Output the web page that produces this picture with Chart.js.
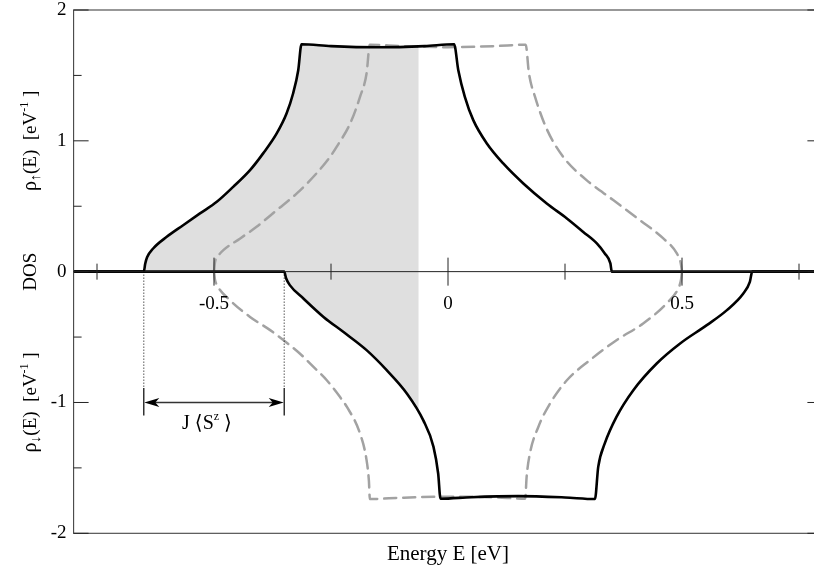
<!DOCTYPE html>
<html>
<head>
<meta charset="utf-8">
<script src="https://cdn.jsdelivr.net/npm/chart.js@4.4.0/dist/chart.umd.min.js"></script>
<style>
  html, body { margin: 0; padding: 0; background: #fff; overflow: hidden; }
  #wrap { position: relative; width: 860px; height: 572px; }
</style>
</head>
<body>
<div id="wrap"><canvas id="dos"></canvas></div>
<script>
// Spin-up DOS, exchange-split band (solid)
const upSolidE   = [-0.8, -0.65, -0.647, -0.643, -0.630, -0.601, -0.566, -0.530, -0.494, -0.459, -0.423, -0.395, -0.366, -0.345, -0.331, -0.320, -0.313, -0.25, -0.15, -0.05, 0.013, 0.022, 0.036, 0.054, 0.083, 0.118, 0.161, 0.211, 0.254, 0.289, 0.318, 0.335, 0.347, 0.350, 0.8];
const upSolidDOS = [0, 0, 0.06, 0.11, 0.177, 0.266, 0.355, 0.445, 0.534, 0.648, 0.776, 0.904, 1.057, 1.209, 1.362, 1.540, 1.738, 1.724, 1.715, 1.724, 1.738, 1.540, 1.336, 1.158, 0.980, 0.827, 0.674, 0.521, 0.407, 0.304, 0.216, 0.139, 0.063, 0, 0];

// Spin-down DOS, exchange-split band (solid, drawn negative)
const downSolidE   = [-0.8, -0.35, -0.346, -0.338, -0.309, -0.266, -0.224, -0.174, -0.131, -0.088, -0.053, -0.031, -0.021, -0.016, 0.05, 0.15, 0.25, 0.314, 0.321, 0.335, 0.360, 0.396, 0.446, 0.496, 0.553, 0.596, 0.631, 0.645, 0.650, 0.8];
const downSolidDOS = [0, 0, -0.05, -0.103, -0.205, -0.346, -0.460, -0.600, -0.753, -0.931, -1.135, -1.339, -1.543, -1.736, -1.724, -1.716, -1.726, -1.738, -1.492, -1.313, -1.110, -0.906, -0.702, -0.549, -0.409, -0.294, -0.167, -0.078, 0, 0];

// Unsplit band, spin up (dashed)
const upDashE   = [-0.5, -0.498, -0.491, -0.480, -0.444, -0.409, -0.366, -0.323, -0.281, -0.252, -0.238, -0.209, -0.188, -0.174, -0.167, -0.1, 0, 0.1, 0.166, 0.173, 0.186, 0.211, 0.246, 0.296, 0.353, 0.410, 0.460, 0.489, 0.497, 0.5];
const upDashDOS = [0, 0.07, 0.12, 0.164, 0.254, 0.343, 0.470, 0.598, 0.751, 0.878, 0.954, 1.133, 1.336, 1.515, 1.735, 1.724, 1.716, 1.724, 1.735, 1.515, 1.336, 1.09, 0.878, 0.700, 0.547, 0.394, 0.254, 0.139, 0.07, 0];

// Unsplit band, spin down (dashed)
const downDashE   = [-0.5, -0.498, -0.494, -0.466, -0.423, -0.380, -0.338, -0.309, -0.295, -0.259, -0.231, -0.216, -0.188, -0.174, -0.169, -0.167, -0.1, 0, 0.1, 0.165, 0.168, 0.175, 0.193, 0.218, 0.254, 0.303, 0.360, 0.417, 0.467, 0.492, 0.498, 0.5];
const downDashDOS = [0, -0.06, -0.10, -0.218, -0.346, -0.447, -0.562, -0.651, -0.702, -0.830, -0.957, -1.034, -1.237, -1.441, -1.60, -1.738, -1.728, -1.72, -1.725, -1.735, -1.569, -1.39, -1.187, -1.008, -0.830, -0.677, -0.524, -0.396, -0.243, -0.128, -0.06, 0];

// Occupied states up to the Fermi energy are shaded
const fermiEnergy = -0.063;
// Lower band edges of the two spin channels; their distance is J<S^z>
const splitEdges = [-0.65, -0.35];

// Axis ticks
const xTickMajor  = [-0.5, 0, 0.5];
const xTickLabels = ['-0.5', '0', '0.5'];
const xTickMinor  = [-0.75, -0.25, 0.25, 0.75];
const yTickMajor  = [-2, -1, 0, 1, 2];
const yTickLabels = ['-2', '-1', '0', '1', '2'];
const yTickMinor  = [-1.5, -0.5, 0.5, 1.5];

const SERIF = '"Liberation Serif", "DejaVu Serif", serif';
const shadeColor = '#dfdfdf';

function pts(xs, ys) { return xs.map((e, i) => ({ x: e, y: ys[i] })); }

function drawRuns(ctx, runs) {
  // runs laid out left to right, centred on the current origin
  let w = 0;
  runs.forEach(r => { ctx.font = r.size + 'px ' + SERIF; r.w = ctx.measureText(r.t).width; w += r.w; });
  let cx = -w / 2;
  runs.forEach(r => {
    ctx.font = r.size + 'px ' + SERIF;
    ctx.fillText(r.t, cx, r.dy || 0);
    cx += r.w;
  });
}

const decor = {
  id: 'decor',
  beforeDatasetsDraw(chart) {
    const { ctx, chartArea: a, scales: { x, y } } = chart;
    const xf = x.getPixelForValue(fermiEnergy);
    const y0 = y.getPixelForValue(0);
    [0, 1].forEach(i => {
      const meta = chart.getDatasetMeta(i);
      const line = meta.dataset;
      const p = meta.data;
      if (line.updateControlPoints) line.updateControlPoints(a, 'x');
      ctx.save();
      ctx.beginPath();
      ctx.rect(a.left, a.top, xf - a.left, a.bottom - a.top);
      ctx.clip();
      ctx.beginPath();
      if (typeof line.path === 'function') {
        line.path(ctx);
      } else {
        ctx.moveTo(p[0].x, p[0].y);
        p.forEach(q => ctx.lineTo(q.x, q.y));
      }
      ctx.lineTo(p[p.length - 1].x, y0);
      ctx.lineTo(p[0].x, y0);
      ctx.closePath();
      ctx.fillStyle = shadeColor;
      ctx.fill();
      ctx.restore();
    });
  },
  afterDatasetsDraw(chart) {
    const { ctx, chartArea: a, scales: { x, y } } = chart;
    const y0 = y.getPixelForValue(0);
    const seg = (x1, y1, x2, y2) => { ctx.beginPath(); ctx.moveTo(x1, y1); ctx.lineTo(x2, y2); ctx.stroke(); };
    ctx.save();

    // frame and zero line
    ctx.strokeStyle = '#444';
    ctx.lineWidth = 1.1;
    ctx.strokeRect(a.left, a.top, a.right - a.left, a.bottom - a.top);
    ctx.strokeStyle = '#222';
    ctx.lineWidth = 1;
    seg(a.left, y0, a.right, y0);

    // y ticks point inwards on both sides
    yTickMajor.forEach(v => { const p = y.getPixelForValue(v); seg(a.left, p, a.left + 15, p); seg(a.right, p, a.right - 15, p); });
    yTickMinor.forEach(v => { const p = y.getPixelForValue(v); seg(a.left, p, a.left + 8, p); seg(a.right, p, a.right - 8, p); });
    // x ticks cross the zero line
    xTickMajor.forEach(v => { const p = x.getPixelForValue(v); seg(p, y0 - 14, p, y0 + 14); });
    xTickMinor.forEach(v => { const p = x.getPixelForValue(v); seg(p, y0 - 8, p, y0 + 8); });

    // tick labels
    ctx.fillStyle = '#000';
    ctx.font = '19px ' + SERIF;
    ctx.textAlign = 'right';
    ctx.textBaseline = 'middle';
    yTickMajor.forEach((v, i) => ctx.fillText(yTickLabels[i], a.left - 7, y.getPixelForValue(v)));
    ctx.textAlign = 'center';
    xTickMajor.forEach((v, i) => ctx.fillText(xTickLabels[i], x.getPixelForValue(v), y0 + 32));

    // x axis title
    ctx.textBaseline = 'alphabetic';
    ctx.font = '21px ' + SERIF;
    ctx.fillText('Energy E [eV]', x.getPixelForValue(0), 560);

    // y axis titles, rotated
    ctx.textAlign = 'left';
    const titles = [
      { v: 1,  runs: [{ t: 'ρ', size: 20 }, { t: '↑', size: 14, dy: 4 }, { t: '(E)', size: 19 }, { t: '  [eV', size: 19 }, { t: '-1', size: 12, dy: -8 }, { t: ' ]', size: 19 }] },
      { v: 0,  runs: [{ t: 'DOS', size: 19 }] },
      { v: -1, runs: [{ t: 'ρ', size: 20 }, { t: '↓', size: 14, dy: 4 }, { t: '(E)', size: 19 }, { t: '  [eV', size: 19 }, { t: '-1', size: 12, dy: -8 }, { t: ' ]', size: 19 }] }
    ];
    titles.forEach(tt => {
      ctx.save();
      ctx.translate(36, y.getPixelForValue(tt.v));
      ctx.rotate(-Math.PI / 2);
      drawRuns(ctx, tt.runs);
      ctx.restore();
    });

    // exchange splitting marker
    const xa = x.getPixelForValue(splitEdges[0]);
    const xb = x.getPixelForValue(splitEdges[1]);
    const yArrow = y.getPixelForValue(-1.0);
    const yBarTop = y.getPixelForValue(-0.89);
    const yBarBot = y.getPixelForValue(-1.1);
    ctx.strokeStyle = '#000';
    ctx.lineWidth = 1;
    ctx.setLineDash([1, 2]);
    seg(xa, y0, xa, yBarTop);
    seg(xb, y0, xb, yBarTop);
    ctx.setLineDash([]);
    ctx.lineWidth = 1.2;
    seg(xa, yBarTop, xa, yBarBot);
    seg(xb, yBarTop, xb, yBarBot);
    ctx.strokeStyle = '#333';
    ctx.lineWidth = 1.5;
    seg(xa + 6, yArrow, xb - 6, yArrow);
    ctx.fillStyle = '#000';
    const head = (tip, dir) => {
      ctx.beginPath();
      ctx.moveTo(tip, yArrow);
      ctx.lineTo(tip + dir * 15, yArrow - 4.5);
      ctx.lineTo(tip + dir * 11, yArrow);
      ctx.lineTo(tip + dir * 15, yArrow + 4.5);
      ctx.closePath();
      ctx.fill();
    };
    head(xa + 0.5, 1);
    head(xb - 0.5, -1);

    ctx.textAlign = 'left';
    ctx.textBaseline = 'alphabetic';
    ctx.save();
    ctx.translate((xa + xb) / 2 - 7, y.getPixelForValue(-1.2));
    drawRuns(ctx, [{ t: 'J ⟨S', size: 20 }, { t: 'z', size: 12, dy: -9 }, { t: ' ⟩', size: 20 }]);
    ctx.restore();

    ctx.restore();
  }
};

const lineBase = { pointRadius: 0, fill: false, cubicInterpolationMode: 'monotone', borderCapStyle: 'round', borderJoinStyle: 'round' };

new Chart(document.getElementById('dos'), {
  type: 'line',
  data: {
    datasets: [
      Object.assign({ label: 'up', data: pts(upSolidE, upSolidDOS), borderColor: '#000', borderWidth: 2.6, order: 0 }, lineBase),
      Object.assign({ label: 'down', data: pts(downSolidE, downSolidDOS), borderColor: '#000', borderWidth: 2.6, order: 0 }, lineBase),
      Object.assign({ label: 'up, unsplit', data: pts(upDashE, upDashDOS), borderColor: '#a2a2a2', borderWidth: 2.5, borderDash: [12, 7], order: 1 }, lineBase),
      Object.assign({ label: 'down, unsplit', data: pts(downDashE, downDashDOS), borderColor: '#a2a2a2', borderWidth: 2.5, borderDash: [12, 7], order: 1 }, lineBase)
    ]
  },
  options: {
    responsive: true,
    maintainAspectRatio: false,
    animation: false,
    layout: { padding: { left: 73.6, right: 37.6, top: 10, bottom: 38.7 } },
    scales: {
      x: { type: 'linear', min: -0.8, max: 0.8, display: false },
      y: { type: 'linear', min: -2, max: 2, display: false }
    },
    plugins: { legend: { display: false }, tooltip: { enabled: false } }
  },
  plugins: [decor]
});
</script>
</body>
</html>
